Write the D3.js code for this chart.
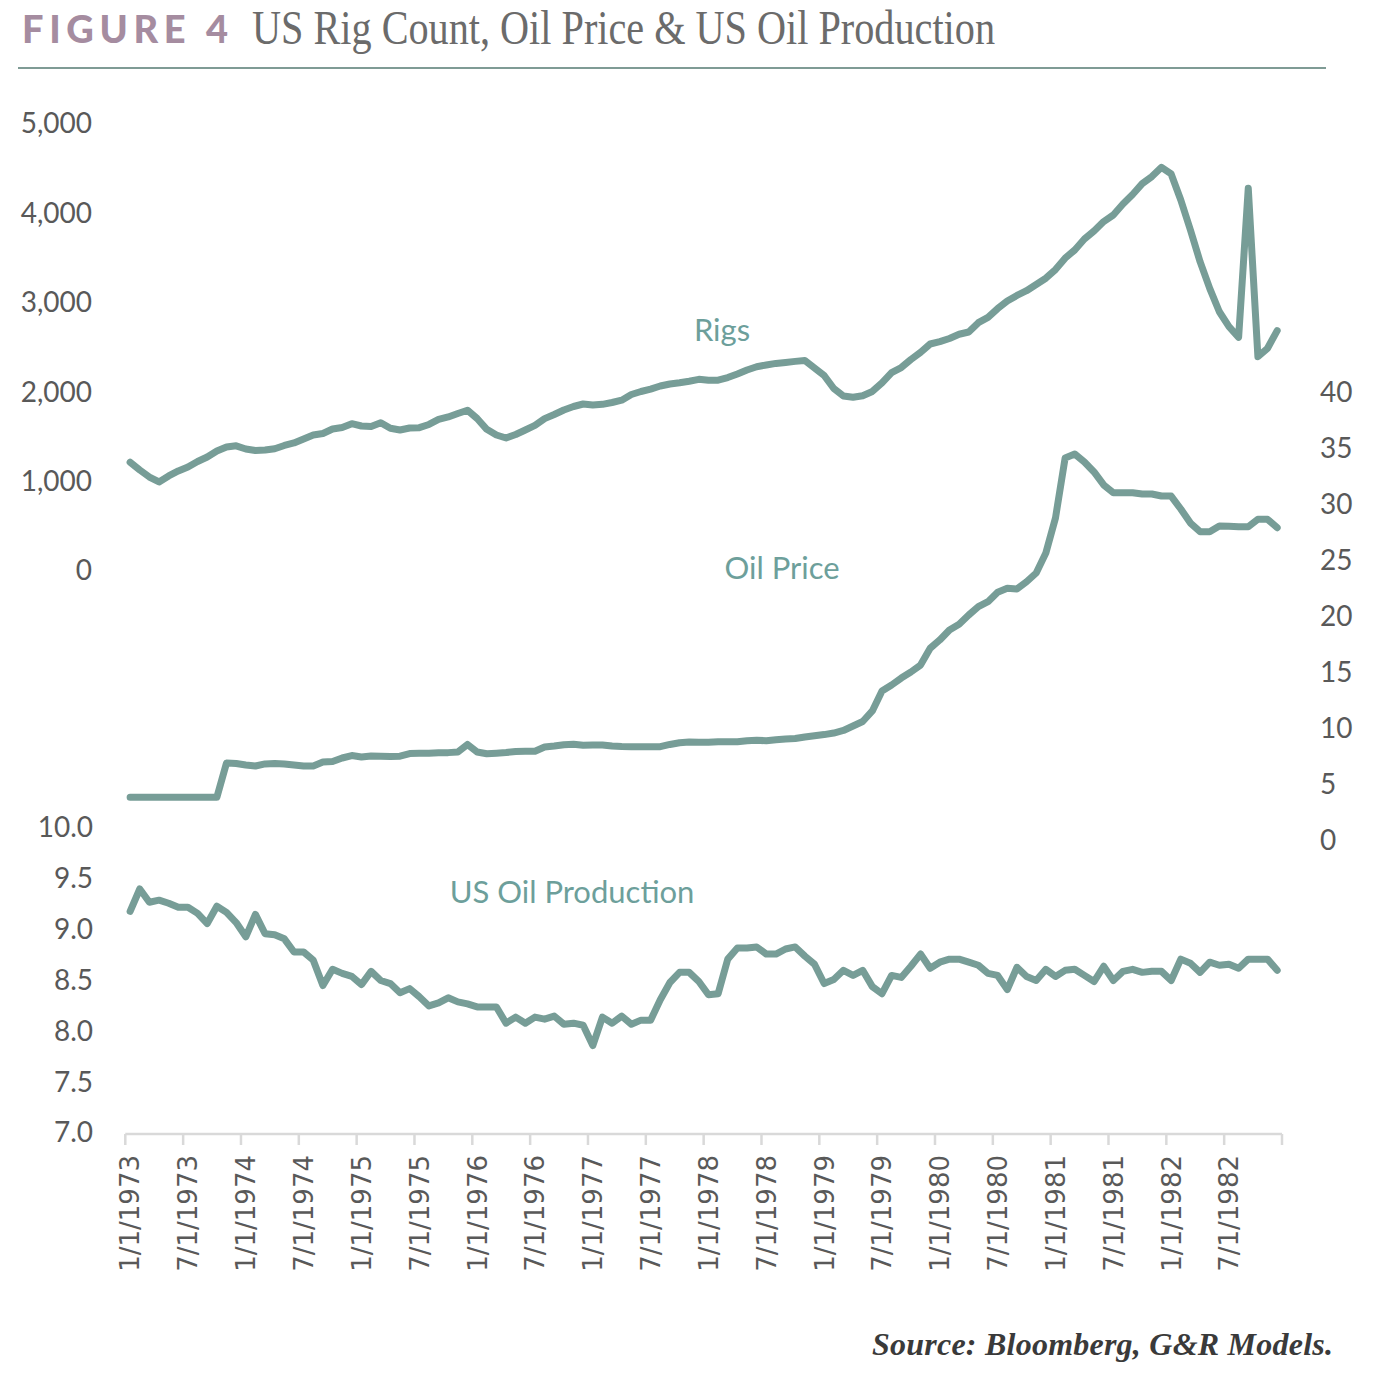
<!DOCTYPE html>
<html>
<head>
<meta charset="utf-8">
<script src="https://cdn.jsdelivr.net/npm/d3@7"></script>
<style>
  html, body { margin: 0; padding: 0; background: #ffffff; }
  svg { display: block; }
</style>
</head>
<body>
<svg id="chart" width="1392" height="1376"></svg>
<script>
// ---------- DATA (monthly, Jan 1973 - Dec 1982) ----------
const years = [1973,1974,1975,1976,1977,1978,1979,1980,1981,1982];
const months = [];
years.forEach(y => { for (let m = 1; m <= 12; m++) months.push(m + "/1/" + y); });

const tickLabels = months.filter((d, i) => i % 6 === 0);

const rigs = [1216,1130,1051,996,1063,1119,1163,1225,1275,1342,
  1387,1400,1365,1348,1353,1368,1404,1432,1477,1521,
  1538,1588,1605,1648,1622,1616,1659,1596,1577,1600,
  1603,1639,1695,1723,1762,1798,1706,1585,1521,1488,
  1527,1577,1628,1704,1751,1801,1840,1868,1857,1864,
  1885,1911,1974,2008,2034,2069,2092,2106,2123,2144,
  2133,2134,2164,2204,2248,2285,2304,2322,2333,2345,
  2355,2271,2187,2041,1957,1943,1960,2008,2103,2220,
  2276,2366,2446,2539,2565,2601,2648,2673,2778,2837,
  2935,3020,3082,3135,3205,3275,3372,3499,3591,3714,
  3803,3909,3982,4105,4211,4333,4412,4516,4441,4150,
  3814,3460,3162,2900,2733,2614,4281,2397,2491,2688];

const oilPrice = [3.90,3.90,3.90,3.90,3.90,3.90,3.90,3.90,3.90,3.90,
  6.96,6.92,6.79,6.70,6.88,6.92,6.88,6.79,6.70,6.70,
  7.05,7.10,7.41,7.63,7.50,7.59,7.56,7.54,7.57,7.81,
  7.83,7.83,7.88,7.89,7.95,8.62,7.95,7.79,7.84,7.90,
  7.99,8.01,8.01,8.39,8.48,8.60,8.63,8.54,8.57,8.57,
  8.48,8.44,8.42,8.42,8.42,8.42,8.62,8.77,8.84,8.81,
  8.81,8.87,8.87,8.87,8.96,9.00,8.95,9.04,9.11,9.15,
  9.29,9.40,9.50,9.64,9.87,10.27,10.67,11.61,13.39,13.93,
  14.55,15.09,15.71,17.21,17.95,18.84,19.35,20.18,20.92,21.37,
  22.21,22.56,22.50,23.15,23.93,25.71,28.84,34.20,34.55,33.84,
  32.95,31.79,31.10,31.10,31.10,30.98,30.98,30.80,30.80,29.64,
  28.39,27.62,27.62,28.13,28.10,28.06,28.06,28.72,28.72,27.97];

const oilProduction = [9.18,9.40,9.27,9.29,9.26,9.22,9.22,9.16,9.06,9.23,
  9.17,9.07,8.93,9.15,8.96,8.95,8.91,8.78,8.78,8.70,
  8.45,8.61,8.57,8.54,8.46,8.59,8.50,8.47,8.38,8.42,
  8.34,8.25,8.28,8.33,8.29,8.27,8.24,8.24,8.24,8.08,
  8.14,8.08,8.14,8.12,8.15,8.07,8.08,8.06,7.86,8.14,
  8.08,8.15,8.07,8.11,8.11,8.31,8.48,8.58,8.58,8.49,
  8.36,8.37,8.71,8.82,8.82,8.83,8.76,8.76,8.81,8.83,
  8.74,8.66,8.47,8.51,8.60,8.55,8.60,8.44,8.37,8.55,
  8.53,8.64,8.76,8.62,8.68,8.71,8.71,8.68,8.65,8.57,
  8.55,8.41,8.63,8.54,8.50,8.61,8.54,8.60,8.61,8.55,
  8.49,8.64,8.50,8.59,8.61,8.58,8.59,8.59,8.50,8.71,
  8.67,8.58,8.68,8.65,8.66,8.62,8.71,8.71,8.71,8.60];

const rigTicks = [0,1000,2000,3000,4000,5000];
const oilTicks = [0,5,10,15,20,25,30,35,40];
const prodTicks = [7.0,7.5,8.0,8.5,9.0,9.5,10.0];

// ---------- STYLE ----------
const lineColor = "#779d97";
const labelColor = "#6d9f9b";
const tickColor = "#595959";

const svg = d3.select("#chart");

// ---------- TITLE ----------
svg.append("text")
  .attr("x", 22).attr("y", 43)
  .attr("font-family", "Lato, 'Open Sans', sans-serif")
  .attr("font-weight", 900)
  .attr("font-size", 38)
  .attr("fill", "#a58ca0")
  .attr("textLength", 206)
  .attr("lengthAdjust", "spacing")
  .text("FIGURE 4");

svg.append("text")
  .attr("x", 252).attr("y", 44)
  .attr("font-family", "'Liberation Serif', 'DejaVu Serif', serif")
  .attr("font-size", 48)
  .attr("fill", "#6b6b6b")
  .attr("textLength", 743)
  .attr("lengthAdjust", "spacingAndGlyphs")
  .text("US Rig Count, Oil Price & US Oil Production");

svg.append("line")
  .attr("x1", 18).attr("x2", 1326)
  .attr("y1", 68).attr("y2", 68)
  .attr("stroke", "#7f9b95").attr("stroke-width", 2);

// ---------- SCALES ----------
const x = d3.scaleBand().domain(months).range([125.3, 1282]).paddingInner(0).paddingOuter(0);
const cx = d => x(d) + x.bandwidth() / 2;

const yRig = d3.scaleLinear().domain([0, 5000]).range([571, 124]);
const yOil = d3.scaleLinear().domain([0, 40]).range([841, 393]);
const yProd = d3.scaleLinear().domain([7, 10]).range([1133, 828]);

// ---------- AXES ----------
function styleAxis(g) {
  g.select(".domain").remove();
  g.selectAll(".tick line").remove();
}

svg.append("g")
  .attr("transform", "translate(100,0)")
  .call(d3.axisLeft(yRig).tickValues(rigTicks).tickSize(0).tickPadding(8).tickFormat(d3.format(",")))
  .call(styleAxis)
  .selectAll("text")
  .attr("font-family", "Lato, sans-serif").attr("font-size", 28).attr("fill", tickColor);

svg.append("g")
  .attr("transform", "translate(101,0)")
  .call(d3.axisLeft(yProd).tickValues(prodTicks).tickSize(0).tickPadding(8).tickFormat(d3.format(".1f")))
  .call(styleAxis)
  .selectAll("text")
  .attr("font-family", "Lato, sans-serif").attr("font-size", 28).attr("fill", tickColor);

svg.append("g")
  .attr("transform", "translate(1312,0)")
  .call(d3.axisRight(yOil).tickValues(oilTicks).tickSize(0).tickPadding(8))
  .call(styleAxis)
  .selectAll("text")
  .attr("font-family", "Lato, sans-serif").attr("font-size", 28).attr("fill", tickColor);

// X axis
const xAxisY = 1134;
const xg = svg.append("g").attr("transform", `translate(0,${xAxisY})`);
xg.append("line")
  .attr("x1", x.range()[0]).attr("x2", x.range()[1])
  .attr("y1", 0).attr("y2", 0)
  .attr("stroke", "#d9d9d9").attr("stroke-width", 2.5);

const tickPos = tickLabels.map(d => x(d)).concat([x.range()[1]]);
xg.selectAll("line.tick")
  .data(tickPos)
  .join("line")
  .attr("class", "tick")
  .attr("x1", d => d).attr("x2", d => d)
  .attr("y1", 0).attr("y2", 11)
  .attr("stroke", "#d9d9d9").attr("stroke-width", 2.5);

xg.selectAll("text.lbl")
  .data(tickLabels)
  .join("text")
  .attr("class", "lbl")
  .attr("transform", d => `translate(${cx(d)},21) rotate(-90)`)
  .attr("text-anchor", "end")
  .attr("dy", "0.36em")
  .attr("font-family", "'DejaVu Sans', Verdana, sans-serif")
  .attr("font-size", 26)
  .attr("fill", tickColor)
  .text(d => d);

// ---------- LINES ----------
function drawLine(values, yScale) {
  const line = d3.line()
    .x((d, i) => cx(months[i]))
    .y(d => yScale(d));
  svg.append("path")
    .datum(values)
    .attr("d", line)
    .attr("fill", "none")
    .attr("stroke", lineColor)
    .attr("stroke-width", 7)
    .attr("stroke-linejoin", "round")
    .attr("stroke-linecap", "round");
}
drawLine(rigs, yRig);
drawLine(oilPrice, yOil);
drawLine(oilProduction, yProd);

// ---------- SERIES LABELS ----------
const seriesLabels = [
  { text: "Rigs", x: 722, y: 330 },
  { text: "Oil Price", x: 782, y: 568 },
  { text: "US Oil Production", x: 572, y: 892 }
];
svg.selectAll("text.series")
  .data(seriesLabels)
  .join("text")
  .attr("class", "series")
  .attr("x", d => d.x).attr("y", d => d.y)
  .attr("dy", "0.36em")
  .attr("text-anchor", "middle")
  .attr("font-family", "Lato, sans-serif")
  .attr("font-size", 31)
  .attr("fill", labelColor)
  .text(d => d.text);

// ---------- SOURCE ----------
svg.append("text")
  .attr("x", 1333).attr("y", 1355)
  .attr("text-anchor", "end")
  .attr("font-family", "'Liberation Serif', 'DejaVu Serif', serif")
  .attr("font-weight", "bold")
  .attr("font-style", "italic")
  .attr("font-size", 32)
  .attr("fill", "#3a3a3a")
  .attr("textLength", 461)
  .attr("lengthAdjust", "spacing")
  .text("Source: Bloomberg, G&R Models.");
</script>
</body>
</html>
